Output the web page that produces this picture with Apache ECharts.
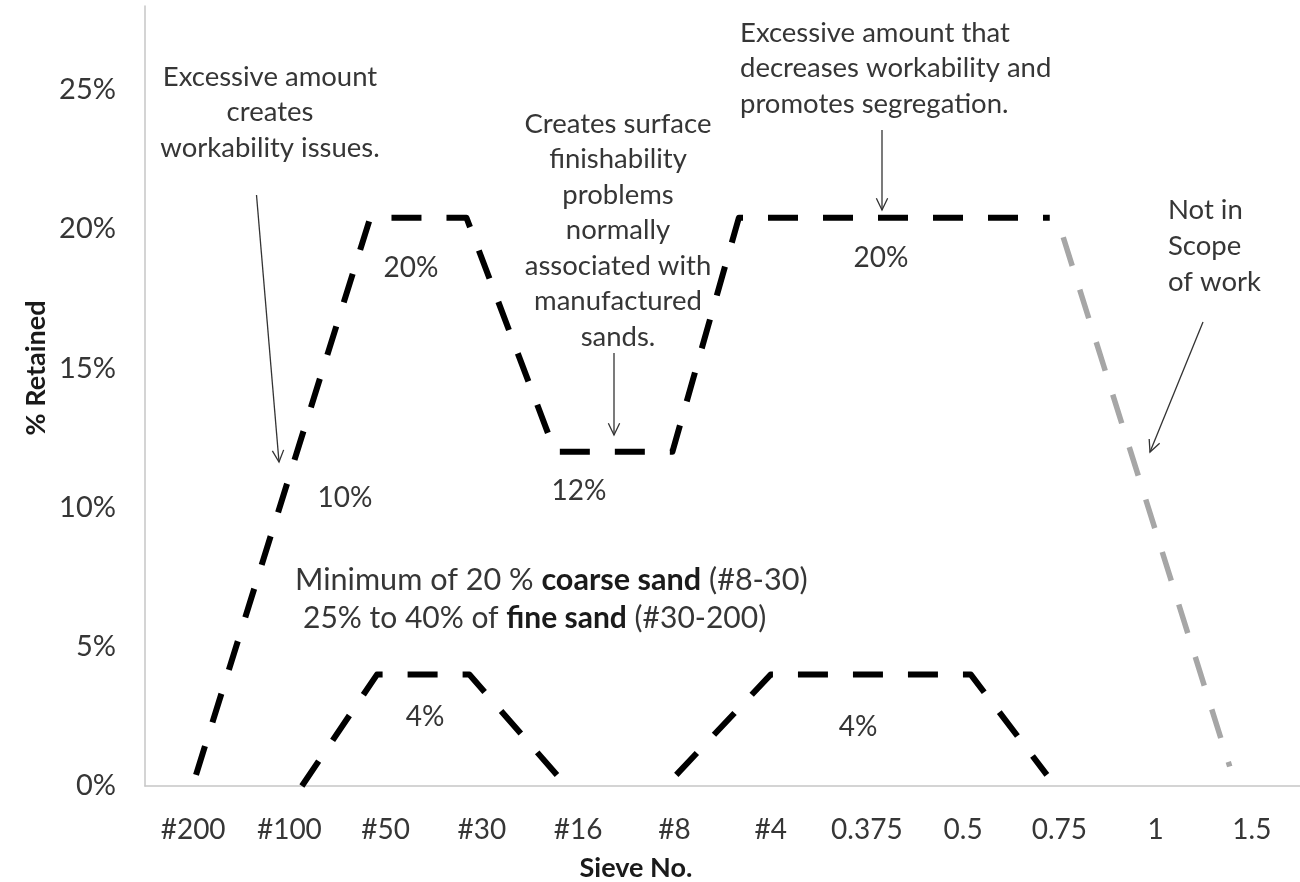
<!DOCTYPE html>
<html>
<head>
<meta charset="utf-8">
<script src="https://cdn.jsdelivr.net/npm/echarts@6/dist/echarts.min.js"></script>
<style>
html,body{margin:0;padding:0;background:#fff;}
#chart{width:1300px;height:882px;}
</style>
</head>
<body>
<div id="chart"></div>
<script>
// ---- data ----
const categories = ['#200','#100','#50','#30','#16','#8','#4','0.375','0.5','0.75','1','1.5'];
// positions along the sieve axis (category index units) and % retained
const upperX = [0.03, 1.84, 2.84, 3.76, 4.98, 5.67, 8.90];
const upperY = [0.4, 20.4, 20.4, 12.0, 12.0, 20.4, 20.4];
const fineLeftX = [1.13, 1.91, 2.87, 3.88];
const fineLeftY = [0, 4, 4, 0];
const fineRightX = [5.02, 6.00, 8.08, 8.87];
const fineRightY = [0.4, 4, 4, 0.4];
const outScopeX = [9.04, 10.77];
const outScopeY = [19.7, 0.7];
const yMin = 0, yMax = 28, yStep = 5;

const FONT = 'Lato, "Open Sans", sans-serif';
const TXT = '#363636';

function zip(xs, ys){ return xs.map((x,i)=>[x, ys[i]]); }

function arrow(x1,y1,x2,y2){
  const a = Math.atan2(y2-y1, x2-x1), L = 13, w = 0.45;
  const p1 = [x2 - L*Math.cos(a-w), y2 - L*Math.sin(a-w)];
  const p2 = [x2 - L*Math.cos(a+w), y2 - L*Math.sin(a+w)];
  return [
    {type:'line', shape:{x1,y1,x2,y2}, style:{stroke:'#333', lineWidth:1.3}, silent:true},
    {type:'polyline', shape:{points:[p1,[x2,y2],p2]}, style:{stroke:'#333', lineWidth:1.3, fill:null}, silent:true}
  ];
}
function txt(x,y,text,opt){
  return Object.assign({type:'text', x, y, silent:true,
    style:Object.assign({text, font:'27.5px '+FONT, fill:TXT, align:'center', verticalAlign:'middle'}, opt||{})});
}

const dashStyle = {color:'#000', width:6, type:[30,25], cap:'butt', join:'round'};

const chart = echarts.init(document.getElementById('chart'), null, {renderer:'canvas'});
chart.setOption({
  animation:false,
  backgroundColor:'#fff',
  grid:{left:145, right:-16, top:6, bottom:96, containLabel:false},
  xAxis:[
    {type:'category', data:categories, boundaryGap:true,
     axisLine:{onZero:false, lineStyle:{color:'#c6c6c6', width:1.5}}, axisTick:{show:false},
     axisLabel:{interval:0, fontFamily:FONT, fontSize:28, color:TXT, margin:30}},
    {type:'value', min:-0.5, max:11.5, show:false}
  ],
  yAxis:{type:'value', min:yMin, max:yMax, interval:yStep,
    axisLine:{show:true, onZero:false, lineStyle:{color:'#c6c6c6', width:1.5}}, axisTick:{show:false},
    splitLine:{show:false},
    axisLabel:{fontFamily:FONT, fontSize:29, color:TXT, margin:29, showMaxLabel:false,
      formatter:v => (v % yStep === 0 ? v + '%' : '')}},
  series:[
    {type:'line', xAxisIndex:1, yAxisIndex:0, data:zip(upperX, upperY), symbol:'none', lineStyle:dashStyle, silent:true},
    {type:'line', xAxisIndex:1, yAxisIndex:0, data:zip(fineLeftX, fineLeftY), symbol:'none', lineStyle:dashStyle, silent:true},
    {type:'line', xAxisIndex:1, yAxisIndex:0, data:zip(fineRightX, fineRightY), symbol:'none', lineStyle:dashStyle, silent:true},
    {type:'line', xAxisIndex:1, yAxisIndex:0, data:zip(outScopeX, outScopeY), symbol:'none',
     lineStyle:Object.assign({}, dashStyle, {color:'#a6a6a6', width:5.5}), silent:true}
  ],
  graphic:[].concat(
    [
      txt(270, 59, 'Excessive amount\ncreates\nworkability issues.', {verticalAlign:'top', lineHeight:35.5}),
      txt(618, 106, 'Creates surface\nfinishability\nproblems\nnormally\nassociated with\nmanufactured\nsands.', {verticalAlign:'top', lineHeight:35.5}),
      txt(740, 15, 'Excessive amount that\ndecreases workability and\npromotes segregation.', {align:'left', verticalAlign:'top', lineHeight:35.5}),
      txt(1168, 192, 'Not in\nScope\nof work', {align:'left', verticalAlign:'top', lineHeight:36}),
      txt(411, 268, '20%', {font:'28px '+FONT}), txt(345, 498, '10%', {font:'28px '+FONT}), txt(579, 491, '12%', {font:'28px '+FONT}),
      txt(881, 258, '20%', {font:'28px '+FONT}), txt(425, 717, '4%', {font:'28px '+FONT}), txt(858, 727, '4%', {font:'28px '+FONT}),
      {type:'text', x:295, y:580, silent:true, style:{
        text:'{n|Minimum of 20 % }{b|coarse sand}{n| (#8-30)}',
        align:'left', verticalAlign:'middle',
        rich:{n:{font:'30.6px '+FONT, fill:TXT}, b:{font:'bold 30.6px '+FONT, fill:'#1a1a1a'}}}},
      {type:'text', x:303, y:618, silent:true, style:{
        text:'{n|25% to 40% of }{b|fine sand}{n| (#30-200)}',
        align:'left', verticalAlign:'middle',
        rich:{n:{font:'30px '+FONT, fill:TXT}, b:{font:'bold 30px '+FONT, fill:'#1a1a1a'}}}},
      txt(636, 868, 'Sieve No.', {font:'bold 27px '+FONT, fill:'#1a1a1a'}),
      {type:'text', x:36, y:368, rotation:Math.PI/2, silent:true,
       style:{text:'% Retained', font:'bold 27px '+FONT, fill:'#1a1a1a', align:'center', verticalAlign:'middle'}}
    ],
    arrow(256.5, 195, 279, 462),
    arrow(614, 353, 614, 435),
    arrow(882, 130, 882, 210),
    arrow(1203, 322, 1150, 452)
  )
});
</script>
</body>
</html>
